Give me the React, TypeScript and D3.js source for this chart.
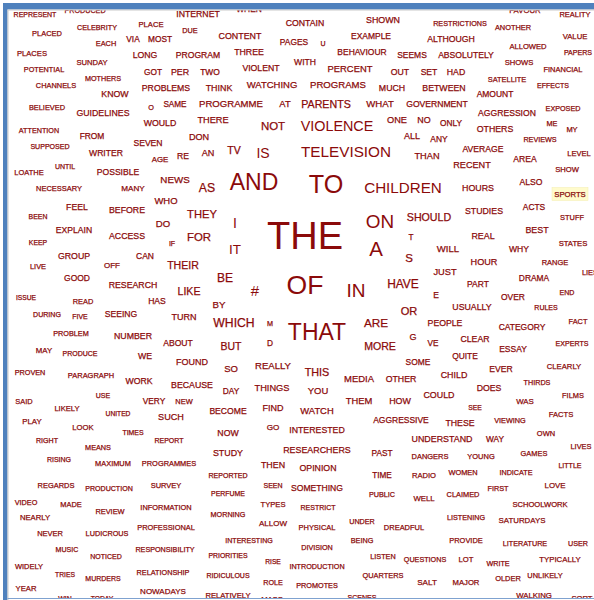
import React from "react";
import * as d3 from "d3";

// ---- DATA: word cloud (word, frequency, layout position in cloud units) ----
const words: string[] = (
  "REPRESENT PRODUCED INTERNET WHEN CELEBRITY PLACE PLACED DUE CONTENT EACH " +
  "VIA MOST PLACES LONG PROGRAM THREE SUNDAY POTENTIAL GOT PER " +
  "TWO VIOLENT MOTHERS CHANNELS PROBLEMS THINK WATCHING KNOW O SAME " +
  "PROGRAMME AT BELIEVED GUIDELINES WOULD THERE NOT ATTENTION FROM DON " +
  "SEVEN SUPPOSED WRITER AN TV IS CONTAIN SHOWN RESTRICTIONS FAVOUR " +
  "REALITY ANOTHER PAGES U EXAMPLE ALTHOUGH VALUE ALLOWED BEHAVIOUR SEEMS " +
  "ABSOLUTELY PAPERS WITH SHOWS PERCENT OUT SET HAD FINANCIAL SATELLITE " +
  "PROGRAMS MUCH BETWEEN EFFECTS AMOUNT PARENTS WHAT GOVERNMENT EXPOSED AGGRESSION " +
  "VIOLENCE ONE NO ONLY ME OTHERS MY ALL ANY REVIEWS " +
  "AVERAGE LEVEL TELEVISION THAN RECENT AREA SHOW TO CHILDREN HOURS " +
  "ALSO SPORTS STUDIES ACTS SHOULD ON STUFF T REAL BEST " +
  "STATES A WILL WHY S HOUR RANGE LIES JUST DRAMA " +
  "IN HAVE PART E END OVER OF THE LOATHE UNTIL " +
  "POSSIBLE AGE RE NEWS AND AS NECESSARY MANY WHO FEEL " +
  "BEFORE THEY I BEEN DO EXPLAIN ACCESS FOR IT KEEP " +
  "IF GROUP CAN OFF THEIR LIVE BE GOOD RESEARCH LIKE " +
  "# ISSUE READ HAS BY DURING FIVE SEEING TURN WHICH " +
  "M THAT PROBLEM NUMBER ABOUT BUT D MAY PRODUCE WE " +
  "FOUND SO REALLY PROVEN PARAGRAPH WORK BECAUSE DAY THINGS USE " +
  "SAID VERY NEW LIKELY BECOME FIND UNITED SUCH PLAY LOOK " +
  "GO NOW TIMES RIGHT REPORT MEANS INTERESTED STUDY RESEARCHERS OR " +
  "USUALLY RULES ARE PEOPLE CATEGORY FACT G VE CLEAR MORE " +
  "ESSAY EXPERTS QUITE SOME EVER CLEARLY THIS CHILD MEDIA OTHER " +
  "THIRDS DOES YOU COULD FILMS THEM HOW WAS SEE WATCH " +
  "FACTS AGGRESSIVE THESE VIEWING OWN UNDERSTAND WAY LIVES PAST DANGERS " +
  "YOUNG GAMES OPINION TIME RADIO WOMEN INDICATE LITTLE PUBLIC WELL " +
  "CLAIMED FIRST LOVE SCHOOLWORK SOMETHING RESTRICT UNDER DREADFUL LISTENING SATURDAYS " +
  "PHYSICAL BEING PROVIDE LITERATURE USER DIVISION LISTEN QUESTIONS LOT WRITE " +
  "TYPICALLY INTRODUCTION QUARTERS SALT MAJOR OLDER UNLIKELY PROMOTES SCENES WALKING " +
  "SORT RISING MAXIMUM PROGRAMMES THEN REPORTED REGARDS PRODUCTION SURVEY SEEN " +
  "PERFUME VIDEO MADE TYPES REVIEW INFORMATION MORNING NEARLY ALLOW PROFESSIONAL " +
  "NEVER LUDICROUS INTERESTING MUSIC RESPONSIBILITY NOTICED PRIORITIES WIDELY RISE RELATIONSHIP " +
  "TRIES MURDERS RIDICULOUS ROLE YEAR NOWADAYS RELATIVELY WIN TODAY MASS"
).split(" ");

const counts: number[] = [
  49, 52, 76, 71, 52, 58, 56, 53, 79, 55,
  69, 69, 58, 76, 74, 77, 58, 53, 69, 79,
  71, 76, 52, 55, 76, 79, 90, 77, 53, 67,
  92, 88, 55, 77, 77, 85, 132, 52, 71, 83,
  74, 50, 74, 83, 110, 196, 76, 79, 52, 61,
  56, 55, 71, 49, 72, 76, 59, 58, 72, 72,
  74, 50, 74, 58, 88, 76, 74, 76, 56, 55,
  92, 77, 77, 49, 72, 114, 92, 74, 52, 74,
  207, 85, 79, 69, 53, 77, 56, 81, 71, 52,
  74, 56, 234, 85, 83, 74, 58, 635, 231, 79,
  74, 59, 77, 71, 114, 357, 55, 67, 79, 79,
  59, 420, 92, 74, 132, 83, 56, 56, 86, 71,
  361, 142, 72, 72, 50, 71, 708, 1444, 56, 49,
  74, 62, 74, 96, 529, 149, 56, 66, 90, 76,
  77, 125, 196, 48, 92, 74, 77, 130, 182, 48,
  49, 77, 72, 64, 112, 55, 144, 72, 77, 112,
  225, 45, 55, 74, 94, 50, 48, 74, 81, 149,
  52, 529, 53, 77, 74, 110, 69, 61, 49, 76,
  81, 90, 92, 53, 56, 76, 77, 69, 86, 49,
  55, 69, 55, 58, 74, 81, 45, 83, 61, 59,
  66, 76, 48, 50, 49, 53, 77, 79, 79, 123,
  77, 49, 139, 76, 72, 55, 81, 67, 76, 112,
  72, 50, 71, 71, 74, 59, 117, 79, 90, 77,
  52, 76, 90, 79, 55, 88, 79, 62, 46, 88,
  58, 72, 76, 53, 56, 79, 69, 55, 69, 56,
  56, 55, 77, 67, 58, 55, 52, 50, 53, 61,
  55, 53, 62, 58, 74, 49, 52, 56, 52, 62,
  56, 53, 55, 52, 52, 52, 53, 52, 59, 52,
  61, 52, 55, 66, 59, 56, 55, 53, 50, 61,
  58, 49, 55, 55, 79, 50, 56, 50, 56, 49,
  48, 53, 55, 58, 55, 55, 52, 59, 64, 55,
  56, 53, 50, 50, 52, 49, 48, 56, 45, 53,
  46, 49, 49, 52, 59, 64, 58, 48, 46, 58,
];

const layoutX: number[] = [
  35, 85, 198, 249, 97, 151, 47, 190, 240, 106,
  133, 160, 32, 145, 198, 249, 92, 44, 153, 180,
  210, 261, 103, 56, 166, 219, 272, 115, 151, 175,
  231, 285, 47, 103, 160, 213, 273, 39, 92, 199,
  148, 50, 106, 208, 234, 263, 305, 383, 460, 525,
  575, 513, 294, 323, 371, 451, 575, 528, 362, 412,
  466, 578, 305, 519, 350, 400, 429, 456, 563, 507,
  338, 392, 444, 553, 495, 326, 380, 437, 563, 507,
  337, 397, 424, 451, 552, 495, 572, 412, 439, 540,
  483, 579, 346, 427, 472, 525, 567, 326, 403, 478,
  531, 570, 484, 534, 429, 380, 572, 411, 483, 537,
  573, 376, 448, 519, 409, 484, 555, 590, 445, 534,
  356, 403, 478, 436, 567, 513, 305, 305, 29, 65,
  118, 160, 183, 175, 254, 207, 59, 133, 166, 77,
  127, 202, 235, 38, 163, 74, 127, 199, 235, 38,
  172, 74, 145, 112, 183, 38, 225, 77, 133, 189,
  255, 26, 83, 157, 219, 47, 80, 121, 184, 234,
  270, 317, 71, 133, 178, 231, 270, 44, 80, 145,
  192, 231, 273, 30, 91, 139, 192, 231, 272, 103,
  24, 154, 184, 67, 228, 273, 118, 171, 32, 83,
  273, 228, 133, 47, 169, 98, 317, 228, 317, 409,
  472, 546, 376, 445, 522, 578, 413, 433, 475, 380,
  513, 572, 465, 418, 501, 564, 317, 454, 359, 401,
  537, 489, 318, 439, 573, 359, 400, 525, 475, 317,
  561, 401, 460, 510, 546, 442, 495, 581, 382, 430,
  481, 534, 318, 382, 424, 463, 516, 570, 382, 424,
  463, 498, 555, 540, 317, 318, 362, 404, 466, 522,
  317, 362, 466, 525, 578, 317, 383, 425, 466, 498,
  560, 317, 383, 427, 466, 508, 545, 317, 362, 534,
  582, 59, 113, 169, 273, 228, 56, 109, 166, 273,
  228, 26, 71, 273, 110, 166, 228, 35, 273, 166,
  50, 107, 249, 67, 165, 106, 228, 29, 273, 163,
  65, 103, 228, 273, 26, 163, 228, 65, 102, 272,
];

const layoutY: number[] = [
  14, 10, 14, 9, 27, 24, 33, 30, 36, 43,
  39, 39, 53, 55, 55, 52, 62, 69, 72, 72,
  72, 68, 78, 85, 88, 88, 85, 94, 107, 104,
  104, 104, 107, 113, 123, 120, 126, 130, 136, 137,
  143, 146, 153, 153, 150, 153, 23, 20, 23, 10,
  14, 27, 42, 43, 36, 39, 36, 46, 52, 55,
  55, 52, 62, 62, 69, 72, 72, 72, 69, 79,
  85, 88, 88, 85, 94, 104, 104, 104, 108, 113,
  126, 120, 120, 123, 123, 129, 129, 136, 139, 139,
  149, 153, 152, 156, 165, 159, 169, 184, 188, 188,
  182, 194, 211, 207, 217, 221, 217, 237, 236, 230,
  243, 249, 249, 249, 258, 262, 262, 272, 272, 278,
  290, 284, 284, 295, 292, 297, 284, 235, 172, 166,
  172, 159, 156, 179, 182, 188, 188, 188, 201, 207,
  210, 214, 223, 217, 224, 230, 236, 237, 249, 243,
  243, 256, 256, 265, 265, 266, 278, 278, 285, 291,
  291, 298, 301, 301, 305, 314, 317, 314, 317, 323,
  323, 332, 333, 336, 343, 346, 343, 350, 353, 356,
  362, 369, 366, 372, 375, 381, 385, 391, 388, 395,
  401, 401, 401, 408, 411, 408, 414, 417, 421, 427,
  427, 433, 433, 440, 440, 447, 430, 453, 450, 311,
  307, 307, 323, 323, 327, 321, 337, 343, 339, 346,
  349, 343, 356, 362, 369, 366, 372, 375, 379, 379,
  382, 388, 391, 395, 395, 401, 401, 401, 408, 411,
  414, 420, 423, 420, 433, 439, 439, 446, 453, 456,
  456, 453, 468, 475, 475, 472, 472, 465, 494, 498,
  494, 488, 485, 504, 488, 507, 521, 527, 517, 520,
  527, 540, 540, 543, 543, 547, 556, 559, 559, 563,
  559, 566, 575, 582, 582, 578, 575, 585, 597, 595,
  598, 459, 463, 463, 465, 475, 485, 488, 485, 485,
  494, 502, 504, 504, 511, 507, 514, 517, 523, 527,
  533, 533, 540, 549, 549, 556, 556, 566, 562, 572,
  575, 578, 575, 582, 588, 591, 595, 599, 599, 599,
];

const highlightedWord = "SPORTS";

export default function App() {
  const W = 594;
  const H = 600;

  const x = d3.scaleLinear().domain([0, 594]).range([0, W]);
  const y = d3.scaleLinear().domain([0, 600]).range([0, H]);
  const size = d3.scaleSqrt().domain([0, 1600]).range([0, 40]);

  const items = words.map((w, i) => ({
    word: w,
    fs: size(counts[i]),
    cx: x(layoutX[i]),
    cy: y(layoutY[i]),
  }));

  const hl = items.find((d) => d.word === highlightedWord);
  const color = "#8b0a0a";

  return (
    <svg
      width={W}
      height={H}
      style={{ position: "absolute", left: 0, top: 0, background: "#ffffff" }}
      fontFamily="'Liberation Sans', Arial, Helvetica, sans-serif"
    >
      <defs>
        <clipPath id="cloudClip">
          <rect x={8} y={10} width={W - 8} height={588} />
        </clipPath>
      </defs>
      <rect x={0} y={0} width={W} height={H} fill="#ffffff" />
      <g clipPath="url(#cloudClip)">
        {hl && (
          <rect
            x={hl.cx - 18}
            y={hl.cy - 6.5}
            width={36}
            height={13}
            fill="#fffbcc"
            stroke="#f3eeb0"
            strokeWidth={0.5}
          />
        )}
        {items.map((d, i) => (
          <text
            key={i}
            x={d.cx}
            y={d.cy + d.fs * 0.358}
            textAnchor="middle"
            fontSize={d.fs}
            fill={color}
            stroke={d.fs < 13 ? color : "none"}
            strokeWidth={d.fs < 13 ? 0.25 : 0}
          >
            {d.word}
          </text>
        ))}
      </g>
      {/* frame */}
      <rect x={3} y={3} width={W - 3} height={6.5} fill="#4f81bd" />
      <rect x={3} y={3} width={4.5} height={H - 3} fill="#4f81bd" />
      <line x1={7.5} x2={W} y1={10} y2={10} stroke="#c9c9c9" strokeWidth={1} />
      <line x1={8} x2={8} y1={10} y2={H} stroke="#c9c9c9" strokeWidth={1} />
      <line x1={7.5} x2={W} y1={598.5} y2={598.5} stroke="#7fa2d0" strokeWidth={1.2} />
    </svg>
  );
}
